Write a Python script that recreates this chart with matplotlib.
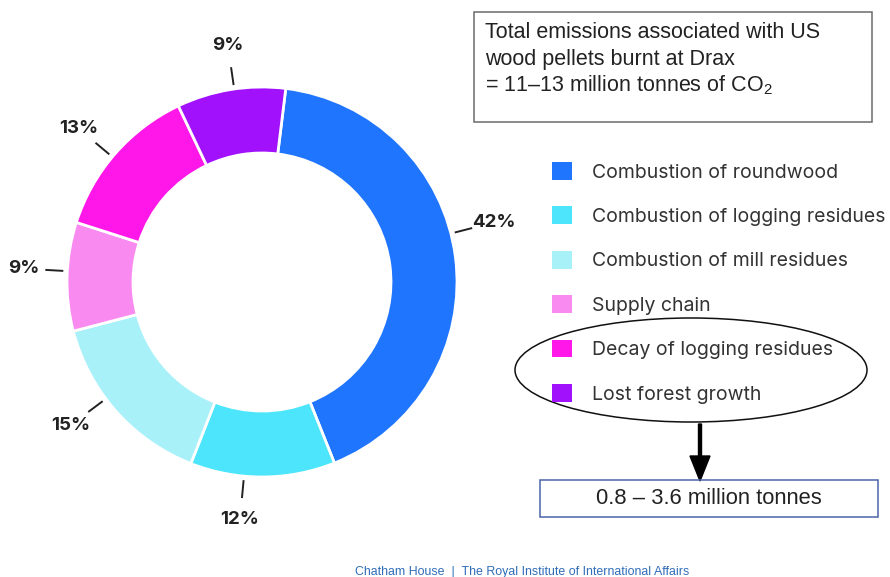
import numpy as np
import matplotlib
matplotlib.use("Agg")
import matplotlib.pyplot as plt
from matplotlib.patches import Ellipse, Rectangle, FancyArrow, Patch

# Emission sources and their shares (%)
categories = [
    "Combustion of roundwood",
    "Combustion of logging residues",
    "Combustion of mill residues",
    "Supply chain",
    "Decay of logging residues",
    "Lost forest growth",
]
shares = [42, 12, 15, 9, 13, 9]
colors = ["#1F75FE", "#4DE5FB", "#A9F1F9", "#F98AF0", "#FF17E9", "#A111FB"]

total_lines = [
    "Total emissions associated with US",
    "wood pellets burnt at Drax",
    "= 11\u201313 million tonnes of CO$_2$",
]
subset_text = "0.8 \u2013 3.6 million tonnes"
footer_text = "Chatham House  |  The Royal Institute of International Affairs"

plt.rcParams["mathtext.fontset"] = "custom"
plt.rcParams["mathtext.rm"] = "Liberation Sans"
plt.rcParams["mathtext.it"] = "Liberation Sans"

W, H = 890, 577
fig = plt.figure(figsize=(W / 100, H / 100), dpi=100)
ax = fig.add_axes([0, 0, 1, 1])

# pixel-like coordinate system (y measured upward)
cx, cy, R = 262, H - 282, 195
ring = 66

wedges, _ = ax.pie(
    shares, colors=colors, startangle=83, counterclock=False,
    center=(cx, cy), radius=R,
    wedgeprops=dict(width=ring, edgecolor="white", linewidth=2),
)
ax.set_xlim(0, W)
ax.set_ylim(0, H)
ax.set_aspect("equal")
ax.axis("off")

# percentage labels with short leader lines
label_nudge = [7, -5.5, -4.8, -1.6, 1.3, -1.0]
for w, v, nd in zip(wedges, shares, label_nudge):
    ang = np.deg2rad((w.theta1 + w.theta2) / 2 + nd)
    ux, uy = np.cos(ang), np.sin(ang)
    ax.plot([cx + 199 * ux, cx + 217 * ux], [cy + 199 * uy, cy + 217 * uy],
            color="#222222", lw=1.4, solid_capstyle="butt")
    ax.text(cx + 239 * ux, cy + 239 * uy, f"{v}%", ha="center", va="center",
            fontsize=13.5, fontweight="bold", family="Inter", color="#222222")

# legend
handles = [Patch(facecolor=c, edgecolor="none") for c in colors]
ax.legend(handles, categories, loc="upper left", bbox_to_anchor=(552, H - 162),
          bbox_transform=ax.transData, frameon=False,
          prop=dict(family="Inter", size=14), labelcolor="#333333",
          handlelength=1.03, handleheight=1.03, handletextpad=1.05,
          labelspacing=1.28, borderpad=0, borderaxespad=0)

# top summary box
ax.add_patch(Rectangle((474, H - 122), 398, 110, fill=False,
                       edgecolor="#6b6b6b", lw=1.1))
for i, line in enumerate(total_lines):
    ax.text(485, H - (38 + 26.5 * i), line, ha="left", va="baseline",
            fontsize=15.5, family="Liberation Sans", color="#222222")

# ellipse around the last two sources and arrow to their range
ax.add_patch(Ellipse((691, H - 370), 352, 104, fill=False,
                     edgecolor="#111111", lw=1.1))
ax.add_patch(FancyArrow(700, H - 424, 0, -57, width=3, head_width=20,
                        head_length=25, length_includes_head=True,
                        color="black"))
ax.add_patch(Rectangle((540, H - 517), 338, 37, fill=False,
                       edgecolor="#4a64a8", lw=1.1))
ax.text(709, H - 498.5, subset_text, ha="center", va="center", fontsize=15.8,
        family="Liberation Sans", color="#222222")

ax.text(522, H - 572, footer_text, ha="center", va="center", fontsize=8.9,
        family="Liberation Sans", color="#2f6db8")

fig.savefig("out.png", dpi=100)
